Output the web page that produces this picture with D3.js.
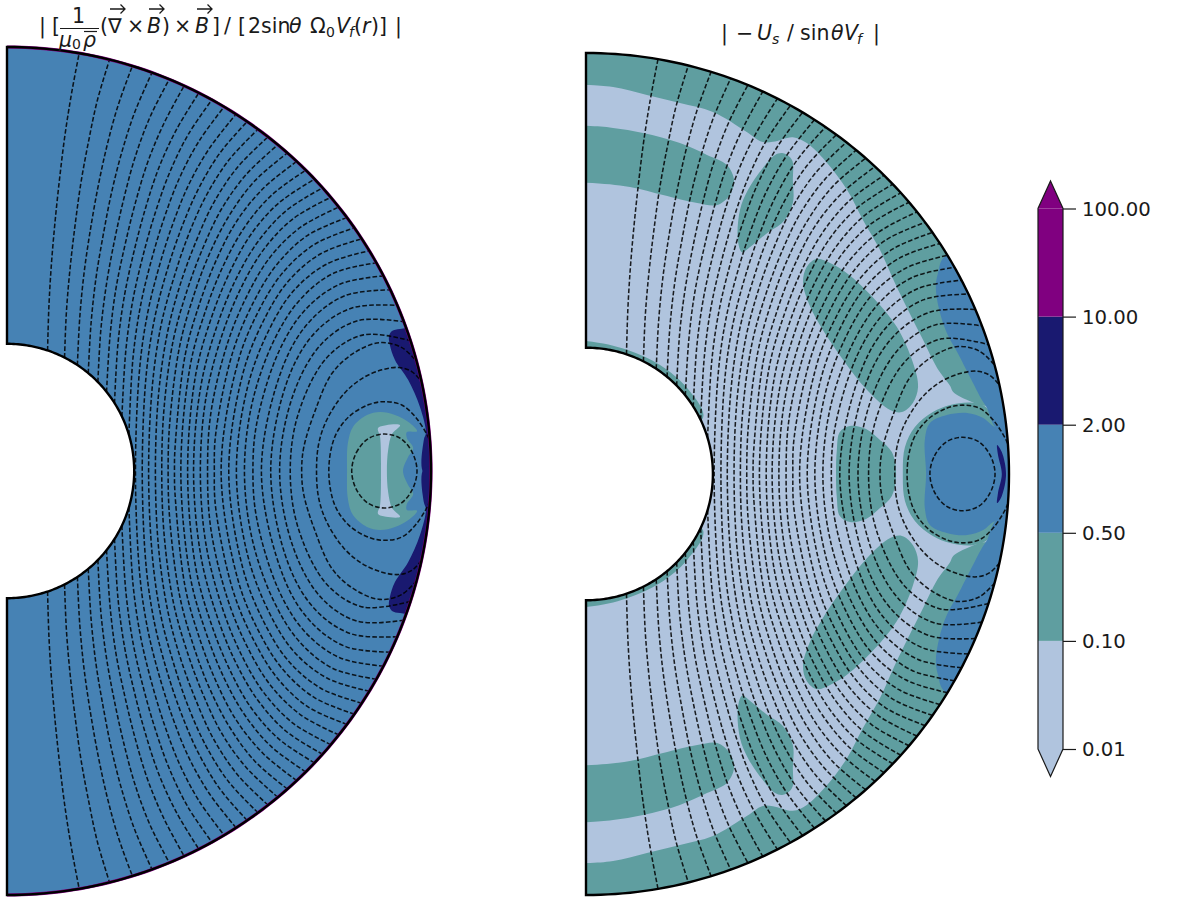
<!DOCTYPE html>
<meta charset="utf-8">
<style>
body { margin: 0; background: #fff; }
text { font-family: "DejaVu Sans", sans-serif; fill: #1a1a1a; }
.field { fill: none; stroke: #000; stroke-width: 1.55; stroke-dasharray: 4.6 2.2; stroke-opacity: .85; }
.rim { fill: none; stroke: #000; stroke-width: 2.4; }
</style>
<svg id="chart" width="1200" height="909"></svg>
<script src="https://cdn.jsdelivr.net/npm/d3@7"></script>
<script>

// colour levels of the two contour plots
var levels = [0.01, 0.1, 0.5, 2, 10, 100];
var levelColors = ["lightsteelblue", "cadetblue", "steelblue", "midnightblue", "purple"];
var innerRadius = 0.30;

// field lines: colatitude (deg) of each line at these radii, null = line not there
var lineRadii = [0.30, 0.40, 0.50, 0.60, 0.70, 0.80, 0.90, 1.00];
var lineAngles = [
  [18.6, 14.3, 12.1, 10.9, 10.2, 9.8, 9.7, 9.8],
  [26.9, 20.5, 17.3, 15.5, 14.4, 13.9, 13.7, 14.0],
  [33.6, 25.4, 21.3, 19.1, 17.8, 17.1, 16.9, 17.2],
  [39.7, 29.7, 24.8, 22.2, 20.6, 19.8, 19.6, 20.0],
  [45.6, 33.6, 28.0, 25.0, 23.2, 22.2, 22.0, 22.5],
  [51.5, 37.4, 30.9, 27.6, 25.6, 24.5, 24.3, 24.7],
  [57.7, 40.9, 33.7, 30.0, 27.8, 26.6, 26.4, 26.9],
  [64.6, 44.5, 36.4, 32.3, 29.9, 28.6, 28.3, 28.9],
  [73.4, 48.0, 39.0, 34.5, 31.9, 30.5, 30.2, 30.8],
  [null, 51.6, 41.6, 36.7, 33.9, 32.4, 32.1, 32.7],
  [null, 55.2, 44.1, 38.8, 35.8, 34.2, 33.8, 34.5],
  [null, 59.1, 46.6, 40.9, 37.6, 35.9, 35.5, 36.3],
  [null, 63.3, 49.2, 42.9, 39.5, 37.6, 37.2, 38.0],
  [null, 67.9, 51.7, 45.0, 41.3, 39.3, 38.9, 39.7],
  [null, 73.6, 54.4, 47.0, 43.0, 41.0, 40.5, 41.4],
  [null, 82.2, 57.1, 49.1, 44.8, 42.6, 42.2, 43.1],
  [null, null, 59.9, 51.2, 46.6, 44.3, 43.8, 44.8],
  [null, null, 62.9, 53.3, 48.4, 45.9, 45.4, 46.5],
  [null, null, 66.2, 55.5, 50.2, 47.6, 47.0, 48.1],
  [null, null, 69.8, 57.7, 52.0, 49.2, 48.6, 49.8],
  [null, null, 74.1, 60.0, 53.9, 50.9, 50.3, 51.5],
  [null, null, 79.9, 62.4, 55.8, 52.6, 51.9, 53.3],
  [null, null, null, 65.0, 57.7, 54.3, 53.6, 55.0],
  [null, null, null, 67.8, 59.7, 56.0, 55.3, 56.8],
  [null, null, null, 70.9, 61.8, 57.8, 57.1, 58.7],
  [null, null, null, 74.5, 64.0, 59.7, 58.8, 60.6],
  [null, null, null, 79.1, 66.3, 61.6, 60.7, 62.6],
  [null, null, null, null, 68.9, 63.6, 62.6, 64.7],
  [null, null, null, null, 71.6, 65.7, 64.7, 67.0],
  [null, null, null, null, 74.9, 68.0, 66.8, 69.4],
  [null, null, null, null, 78.9, 70.5, 69.1, 72.1]
];
// radius where a line crosses the equator, null = it ends on the inner sphere
var lineCross = [null, null, null, null, null, null, null, null, null,
  0.303, 0.319, 0.334, 0.350, 0.365, 0.380, 0.395, 0.410, 0.426, 0.440, 0.456, 0.473, 0.489,
  0.505, 0.523, 0.541, 0.560, 0.580, 0.600, 0.622, 0.643, 0.668];
// the three lines hugging the loop need more points, [radius, colatitude]
var nearLines = [
  [[0.695, 90], [0.702, 85.5], [0.74, 79.0], [0.80, 73.3], [0.865, 71.2], [0.93, 71.0], [0.975, 72.6], [1.0, 75.0]],
  [[0.730, 90], [0.738, 85.0], [0.764, 80.9], [0.815, 77.1], [0.865, 75.4], [0.916, 74.9], [0.956, 75.2], [0.983, 76.2], [1.0, 77.8]],
  [[0.759, 90], [0.777, 84.1], [0.816, 81.0], [0.868, 79.6], [0.906, 79.6], [0.944, 80.5], [0.971, 82.4], [0.994, 85.0], [1.0, 86.0]]
];
// the one closed loop
var closedLoop = [[0.813, 90], [0.825, 87.0], [0.855, 84.9], [0.894, 84.4], [0.932, 85.3], [0.957, 87.4], [0.967, 90]];

// regions of the left plot, [s, z] in units of the outer radius
var leftCrescent = [[0.903, 0.297], [0.901, 0.318], [0.908, 0.330], [0.927, 0.335], [0.981, 0.335], [1.033, 0.167],
  [1.033, -0.005], [0.983, -0.005], [0.983, 0.073], [0.988, 0.090], [0.974, 0.151], [0.946, 0.215], [0.915, 0.262]];
var leftCore = [[0.802, 0], [0.804, 0.066], [0.816, 0.104], [0.849, 0.132], [0.880, 0.139], [0.915, 0.132], [0.950, 0.113],
  [0.967, 0.094], [0.943, 0.092], [0.943, 0.078], [0.958, 0.054], [0.946, 0.033], [0.934, 0]];
var leftSliver = [[0.882, 0], [0.880, 0.080], [0.875, 0.101], [0.894, 0.108], [0.927, 0.108], [0.908, 0.087], [0.899, 0.050], [0.896, 0]];

// regions of the right plot
var rightBand = [[-0.3, 0.928], [0.0, 0.924], [0.064, 0.919], [0.144, 0.900], [0.222, 0.881], [0.300, 0.860], [0.381, 0.812], [0.416, 0.789],
  [0.442, 0.789], [0.489, 0.800], [0.522, 0.786], [0.570, 0.739], [0.617, 0.675], [0.655, 0.603], [0.695, 0.532], [0.730, 0.454],
  [0.761, 0.390], [0.797, 0.318], [0.830, 0.252], [0.861, 0.209], [0.868, 0.195], [0.908, 0.173], [0.943, 0.162],
  [1.07, 0.176], [1.07, 1.05], [-0.3, 1.05]];
var rightFinger = [[-0.3, 0.83], [0.0, 0.827], [0.064, 0.822], [0.135, 0.810], [0.222, 0.786], [0.286, 0.758], [0.333, 0.734], [0.350, 0.698],
  [0.340, 0.663], [0.310, 0.639], [0.263, 0.644], [0.182, 0.663], [0.104, 0.682], [0.0, 0.692], [-0.3, 0.695]];
var rightBlob = [[0.466, 0.762], [0.487, 0.746], [0.489, 0.698], [0.489, 0.644], [0.466, 0.599], [0.428, 0.572], [0.388, 0.539],
  [0.369, 0.527], [0.359, 0.556], [0.364, 0.627], [0.383, 0.675], [0.418, 0.727], [0.447, 0.758]];
var rightOval = [[0.546, 0.511], [0.522, 0.492], [0.513, 0.454], [0.530, 0.397], [0.560, 0.342], [0.608, 0.271], [0.664, 0.200],
  [0.719, 0.152], [0.747, 0.147], [0.773, 0.169], [0.785, 0.207], [0.773, 0.264], [0.735, 0.349], [0.678, 0.420], [0.617, 0.477], [0.577, 0.501]];
var rightLobe = [[0.591, 0], [0.593, 0.057], [0.600, 0.100], [0.624, 0.114], [0.662, 0.107], [0.695, 0.081], [0.723, 0.052], [0.733, 0]];
var rightPole = [[-0.3, 0.32], [0.0, 0.316], [0.097, 0.295], [0.175, 0.259], [0.239, 0.204], [0.277, 0.135], [0.2, 0.1], [0, 0.2], [-0.3, 0.2]];
var rightRing = [[0.749, 0], [0.754, 0.064], [0.778, 0.112], [0.820, 0.147], [0.861, 0.164], [0.915, 0.169], [0.948, 0.157],
  [0.967, 0.112], [0.93, 0.10], [0.93, 0]];
var rightEdge = [[0.849, 0.518], [0.832, 0.477], [0.827, 0.444], [0.835, 0.390], [0.853, 0.335], [0.879, 0.287], [0.908, 0.230],
  [0.936, 0.176], [0.948, 0.157], [0.967, 0.112], [1.0, 0.095], [1.073, 0.09], [1.073, 0.58]];
var rightCore = [[0.804, 0], [0.801, 0.081], [0.813, 0.121], [0.853, 0.140], [0.901, 0.145], [0.939, 0.133], [0.967, 0.112],
  [1.0, 0.115], [1.073, 0.115], [1.073, 0]];
var rightArc = [[0.983, 0], [0.974, 0.045], [0.972, 0.069], [0.983, 0.052], [0.993, 0]];

var svg = d3.select("#chart");
var closedCurve = d3.line().curve(d3.curveCatmullRomClosed.alpha(0.5));
var openCurve = d3.line().curve(d3.curveCatmullRom.alpha(0.5));

function mirror(points) {
  return points.concat(points.slice().reverse()
    .filter(function(p) { return p[1] !== 0; })
    .map(function(p) { return [p[0], -p[1]]; }));
}

function makePanel(id, x0, x1, y0, y1, base) {
  var x = d3.scaleLinear().domain([0, 1]).range([x0, x1]);
  var y = d3.scaleLinear().domain([-1, 1]).range([y0, y1]);
  var panel = { x: x, y: y };
  panel.xy = function(p) { return [x(p[0]), y(p[1])]; };
  panel.polar = function(r, deg) {
    var t = deg * Math.PI / 180;
    return [x(r * Math.sin(t)), y(r * Math.cos(t))];
  };

  var outer = d3.range(0, 181, 1).map(function(a) { return panel.polar(1, a); });
  var inner = d3.range(180, -1, -1).map(function(a) { return panel.polar(innerRadius, a); });
  panel.outer = outer;
  panel.inner = inner;
  var wedge = d3.line()(outer.concat(inner)) + "Z";
  panel.wedge = wedge;

  svg.append("clipPath").attr("id", id).append("path").attr("d", wedge);
  panel.g = svg.append("g").attr("clip-path", "url(#" + id + ")");
  panel.g.append("path").attr("d", wedge).attr("fill", base);

  panel.fill = function(points, color) {
    panel.g.append("path")
      .attr("d", closedCurve(points.map(panel.xy)))
      .attr("fill", color);
  };
  panel.twin = function(points, color) {
    panel.fill(points, color);
    panel.fill(points.map(function(p) { return [p[0], -p[1]]; }), color);
  };
  return panel;
}

function drawFieldLines(panel) {
  var toXY = function(p) { return panel.polar(p[0], p[1]); };
  var flip = function(p) { return [p[0], 180 - p[1]]; };
  var draw = function(points) {
    panel.g.append("path").attr("class", "field").attr("d", openCurve(points.map(toXY)));
  };
  var rows = lineAngles.map(function(row, i) {
    var upper = [];
    if (lineCross[i] !== null) upper.push([lineCross[i], 90]);
    row.forEach(function(a, j) {
      if (a !== null) upper.push([lineRadii[j], a]);
    });
    return upper;
  }).concat(nearLines);
  rows.forEach(function(upper) {
    if (upper[0][1] === 90) {
      draw(upper.map(flip).slice(1).reverse().concat(upper));
    } else {
      draw(upper);
      draw(upper.map(flip));
    }
  });
  var loop = closedLoop.concat(closedLoop.slice(1, -1).reverse().map(flip));
  panel.g.append("path").attr("class", "field").attr("d", closedCurve(loop.map(toXY)));
}

function drawRim(panel, fringe) {
  if (fringe) {
    svg.append("path").attr("d", d3.line()(panel.outer))
      .attr("fill", "none").attr("stroke", fringe).attr("stroke-width", 3.2);
  }
  svg.append("path").attr("class", "rim").attr("d", panel.wedge).attr("stroke-linejoin", "miter");
}

//left plot
var left = makePanel("clipLeft", 7, 431, 895, 47, levelColors[2]);
left.twin(leftCrescent, levelColors[3]);
left.fill(mirror(leftCore), levelColors[1]);
left.fill(mirror(leftSliver), levelColors[0]);
drawFieldLines(left);
drawRim(left, levelColors[4]);

//right plot
var right = makePanel("clipRight", 586, 1009, 895, 53, levelColors[0]);
right.twin(rightBand, levelColors[1]);
right.twin(rightFinger, levelColors[1]);
right.twin(rightBlob, levelColors[1]);
right.twin(rightOval, levelColors[1]);
right.twin(rightPole, levelColors[1]);
right.fill(mirror(rightLobe), levelColors[1]);
right.fill(mirror(rightRing), levelColors[1]);
right.twin(rightEdge, levelColors[2]);
right.fill(mirror(rightCore), levelColors[2]);
right.fill(mirror(rightArc), levelColors[3]);
drawFieldLines(right);
drawRim(right);

//colorbar
var bar = d3.scalePoint().domain(levels).range([749, 208.5]);
var barX = 1038, barW = 25;
var cbar = svg.append("g");
d3.pairs(levels).forEach(function(p, i) {
  cbar.append("rect")
    .attr("x", barX).attr("width", barW)
    .attr("y", bar(p[1])).attr("height", bar(p[0]) - bar(p[1]))
    .attr("fill", levelColors[i]);
});
var barTip = 27.5;
cbar.append("path")
  .attr("d", d3.line()([[barX, bar(100)], [barX + barW / 2, bar(100) - barTip], [barX + barW, bar(100)]]))
  .attr("fill", levelColors[4]);
cbar.append("path")
  .attr("d", d3.line()([[barX, bar(0.01)], [barX + barW / 2, bar(0.01) + barTip], [barX + barW, bar(0.01)]]))
  .attr("fill", levelColors[0]);
cbar.append("path")
  .attr("d", d3.line()([[barX, bar(0.01)], [barX + barW / 2, bar(0.01) + barTip], [barX + barW, bar(0.01)],
    [barX + barW, bar(100)], [barX + barW / 2, bar(100) - barTip], [barX, bar(100)]]) + "Z")
  .attr("fill", "none").attr("stroke", "#1a1a1a").attr("stroke-width", 1.2);

var axis = svg.append("g")
  .attr("transform", "translate(" + (barX + barW) + ",0)")
  .call(d3.axisRight(bar).tickSize(13).tickPadding(6).tickFormat(function(d) { return d.toFixed(2); }));
axis.select(".domain").remove();
axis.selectAll("line").attr("stroke", "#1a1a1a").attr("stroke-width", 1.2);
axis.selectAll("text").style("font-size", "19.7px").style("font-family", "'DejaVu Sans'").attr("fill", "#1a1a1a")
  .attr("dy", "0.35em");

//titles, each piece placed by hand like mathtext does
function piece(x, y, str, size, italic) {
  svg.append("text").attr("x", x).attr("y", y)
    .style("font-size", size + "px")
    .style("font-style", italic ? "italic" : "normal")
    .text(str);
}
function vecArrow(x) {
  svg.append("path")
    .attr("d", "M" + x + ",9H" + (x + 15) + "M" + (x + 10.5) + ",4.5L" + (x + 15) + ",9L" + (x + 10.5) + ",13.5")
    .attr("fill", "none").attr("stroke", "#1a1a1a").attr("stroke-width", 1.3);
}
var titleSize = 20.5;
piece(39, 33, "|", titleSize);
piece(52, 33, "[", titleSize);
piece(72, 23, "1", titleSize);
svg.append("line").attr("x1", 60).attr("x2", 99).attr("y1", 28.5).attr("y2", 28.5).attr("stroke", "#1a1a1a").attr("stroke-width", 1.2);
piece(59, 47, "μ", titleSize, true);
piece(72, 49, "0", 14);
piece(83, 47, "ρ", titleSize, true);
svg.append("line").attr("x1", 84).attr("x2", 97).attr("y1", 31.5).attr("y2", 31.5).attr("stroke", "#1a1a1a").attr("stroke-width", 1.2);
piece(100, 33, "(", titleSize);
piece(108, 33, "∇", titleSize);
vecArrow(110);
piece(127, 33, "×", titleSize);
piece(147, 33, "B", titleSize, true);
vecArrow(149);
piece(162, 33, ")", titleSize);
piece(174, 33, "×", titleSize);
piece(195, 33, "B", titleSize, true);
vecArrow(197);
piece(212, 33, "]", titleSize);
piece(224, 33, "/", titleSize);
piece(238, 33, "[", titleSize);
piece(248, 33, "2sin", titleSize);
piece(289, 33, "θ", titleSize, true);
piece(310, 33, "Ω", titleSize);
piece(326, 37, "0", 14);
piece(336, 33, "V", titleSize, true);
piece(349, 37, "f", 14, true);
piece(354, 33, "(", titleSize);
piece(362, 33, "r", titleSize, true);
piece(371, 33, ")", titleSize);
piece(379, 33, "]", titleSize);
piece(395, 33, "|", titleSize);

piece(721, 40, "|", titleSize);
piece(736, 40, "−", titleSize);
piece(757, 40, "U", titleSize, true);
piece(772, 44, "s", 14, true);
piece(787, 40, "/", titleSize);
piece(800, 40, "sin", titleSize);
piece(831, 40, "θ", titleSize, true);
piece(844, 40, "V", titleSize, true);
piece(857, 44, "f", 14, true);
piece(873, 40, "|", titleSize);

</script>
